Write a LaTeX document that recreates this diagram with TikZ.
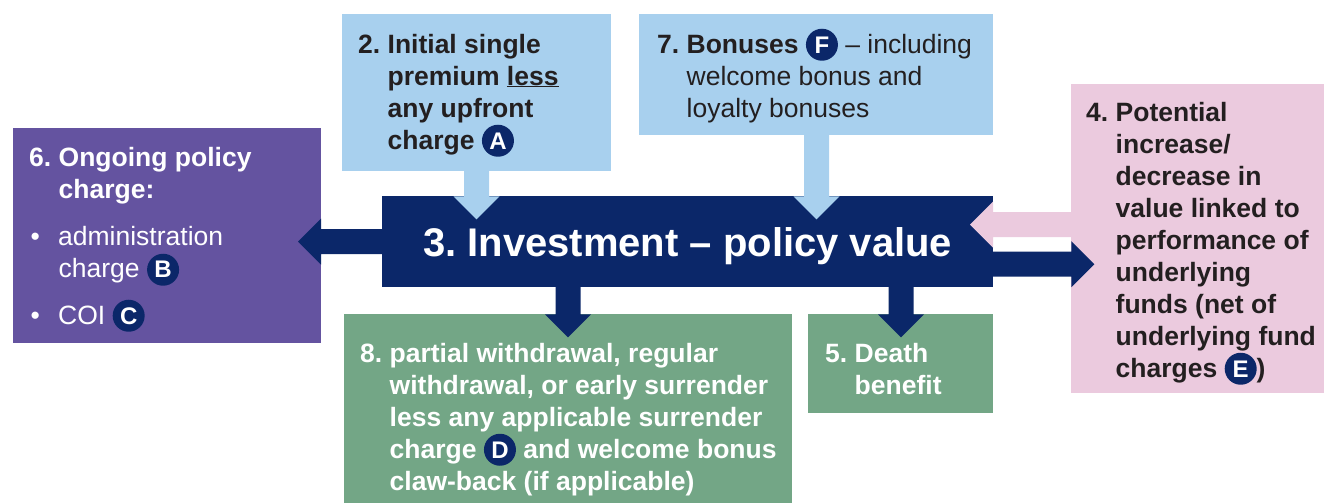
\documentclass[tikz,border=0pt]{standalone}
\usepackage{fontspec}
\setmainfont{Liberation Sans}
\usetikzlibrary{calc}
\frenchspacing
\definecolor{navy}{HTML}{0B2769}
\definecolor{lblue}{HTML}{A8D0EE}
\definecolor{pinkb}{HTML}{EBCADE}
\definecolor{purp}{HTML}{6453A0}
\definecolor{greenb}{HTML}{73A686}
\definecolor{darktxt}{HTML}{231F20}
\newcommand\badge[1]{\tikz[baseline=(bdg.base)]\node[circle,fill=navy,text=white,inner sep=0pt,minimum size=32pt,font=\bfseries\fontsize{24}{24}\selectfont](bdg){#1};}
\newcommand\ind{\hspace*{29.5pt}}
\newcommand\blockarrow[5]{%
  \fill[#1,shift={#2},rotate=#3] (0,-12.5) -- (#4,-12.5) -- (#4,-23) -- ({#4+#5},0) -- (#4,23) -- (#4,12.5) -- (0,12.5) -- cycle;}
\begin{document}
\frenchspacing
\begin{tikzpicture}[x=1pt,y=-1pt,
  box/.style={draw=none,inner sep=0pt,anchor=north west},
  txt/.style={inner sep=0pt,anchor=base west,align=left,font=\fontsize{26.5}{32}\selectfont}]
\useasboundingbox (0,0) rectangle (1324,503);
% boxes
\node[box,fill=purp,minimum width=308pt,minimum height=215pt] (b6) at (13,128) {};
\node[box,fill=lblue,minimum width=269pt,minimum height=157pt] (b2) at (342,14) {};
\node[box,fill=lblue,minimum width=354pt,minimum height=121pt] (b7) at (639,14) {};
\node[box,fill=pinkb,minimum width=253pt,minimum height=309pt] (b4) at (1071,84) {};
\node[box,fill=navy,minimum width=611pt,minimum height=91pt] (inv) at (382,196) {};
\node[box,fill=greenb,minimum width=448pt,minimum height=189pt] (b8) at (344,314) {};
\node[box,fill=greenb,minimum width=185pt,minimum height=99pt] (b5) at (808,314) {};
% arrows
\blockarrow{navy}{(inv.west)}{180}{61}{23}
\blockarrow{lblue}{($(b2.south west)+(134.5,-1)$)}{-90}{26}{23}
\blockarrow{lblue}{($(b7.south west)+(177.5,-1)$)}{-90}{62}{23}
\blockarrow{pinkb}{($(b4.west)+(1,-14)$)}{180}{79}{23}
\blockarrow{navy}{($(inv.east)+(-1,22.5)$)}{0}{79}{23}
\blockarrow{navy}{($(inv.south west)+(186,-1)$)}{-90}{28}{23}
\blockarrow{navy}{($(inv.south west)+(519,-1)$)}{-90}{28}{23}
% texts (anchor = baseline of the last line)
\node[font=\bfseries\fontsize{40}{48}\selectfont,text=white,inner sep=0pt,anchor=base] (title) at ($(inv.center)+(0,14.5)$) {3. Investment – policy value};
\node[txt,text=darktxt,font=\bfseries\fontsize{26.5}{32}\selectfont] (t2) at ($(b2.north west)+(16,135)$)
  {2. Initial single\\\ind premium \underline{less}\\\ind any upfront\\\ind charge \badge{A}};
\node[txt,text=darktxt] (t7) at ($(b7.north west)+(18,103)$)
  {\textbf{7. Bonuses} \badge{F} – including\\\ind welcome bonus and\\\ind loyalty bonuses};
\node[txt,text=darktxt,font=\bfseries\fontsize{26.5}{32}\selectfont] (t4) at ($(b4.north west)+(15,293)$)
  {4. Potential\\\ind increase/\\\ind decrease in\\\ind value linked to\\\ind performance of\\\ind underlying\\\ind funds (net of\\\ind underlying fund\\\ind charges \badge{E})};
\node[txt,text=white] (t6) at ($(b6.north west)+(16,196)$)
  {\textbf{6. Ongoing policy}\\\ind\textbf{charge:}\\[15pt]\makebox[29pt][l]{\hspace{1.5pt}•}administration\\\ind charge \badge{B}\\[13pt]\makebox[29pt][l]{\hspace{1.5pt}•}COI \badge{C}};
\node[txt,text=white,font=\bfseries\fontsize{26.5}{32}\selectfont] (t8) at ($(b8.north west)+(16,176)$)
  {8. partial withdrawal, regular\\\ind withdrawal, or early surrender\\\ind less any applicable surrender\\\ind charge \badge{D} and welcome bonus\\\ind claw-back (if applicable)};
\node[txt,text=white,font=\bfseries\fontsize{26.5}{32}\selectfont] (t5) at ($(b5.north west)+(17,80)$)
  {5. Death\\\ind benefit};
\end{tikzpicture}
\end{document}
